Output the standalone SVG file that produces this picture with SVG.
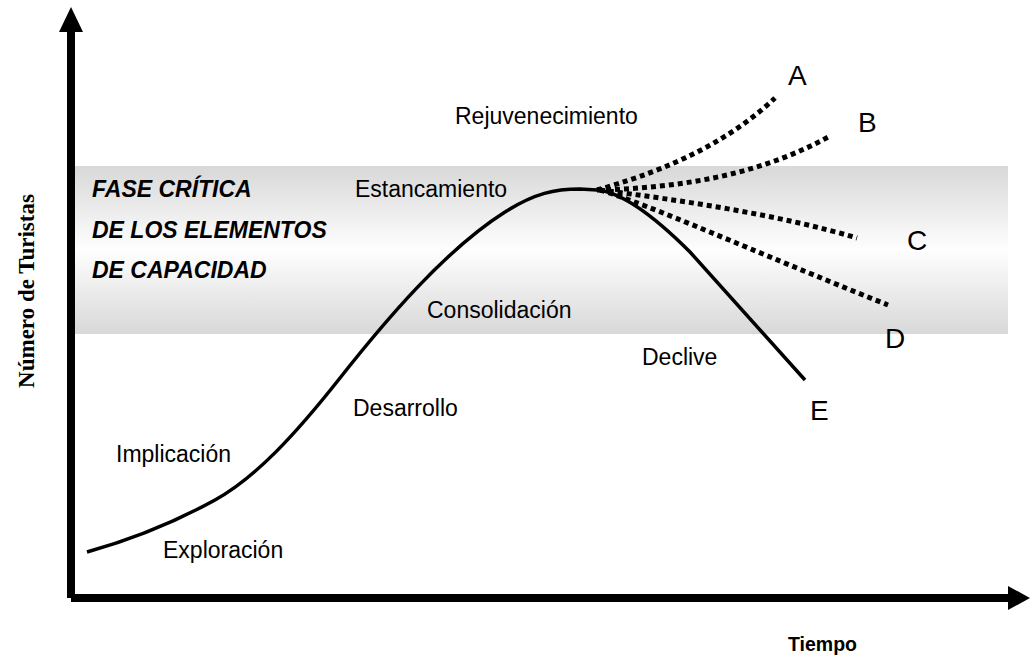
<svg xmlns="http://www.w3.org/2000/svg" width="1030" height="661" viewBox="0 0 1030 661">
<style>
.lbl{font-family:"Liberation Sans",Arial,sans-serif;font-size:23px;fill:#000}
.let{font-family:"Liberation Sans",Arial,sans-serif;font-size:28px;fill:#000}
.crit{font-family:"Liberation Sans",Arial,sans-serif;font-size:23px;font-weight:bold;font-style:italic;fill:#000}
.curve{fill:none;stroke:#000;stroke-width:3.5;stroke-linejoin:round}
.dot{fill:none;stroke:#000;stroke-width:5;stroke-dasharray:5 4}
</style>
<defs>
<linearGradient id="band" x1="0" y1="0" x2="0" y2="1">
<stop offset="0" stop-color="#d8d8d8"/>
<stop offset="0.5" stop-color="#fefefe"/>
<stop offset="1" stop-color="#d8d8d8"/>
</linearGradient>
</defs>
<rect width="1030" height="661" fill="#fff"/>
<g id="critical-band">
<rect x="75" y="166" width="933" height="168" fill="url(#band)"/>
<text class="crit" x="92" y="197">FASE CRÍTICA</text>
<text class="crit" x="92" y="238">DE LOS ELEMENTOS</text>
<text class="crit" x="92" y="278">DE CAPACIDAD</text>
</g>
<g id="axes">
<rect x="67" y="30" width="8" height="568" fill="#000"/>
<polygon points="71,7 59,32 83,32" fill="#000"/>
<rect x="71" y="594" width="938" height="8" fill="#000"/>
<polygon points="1030,598 1008,586 1008,610" fill="#000"/>
<text x="34" y="291" transform="rotate(-90 34 291)" text-anchor="middle" font-family="'Liberation Serif','Times New Roman',serif" font-weight="bold" font-size="23">Número de Turistas</text>
<text x="788" y="651" font-family="'Liberation Sans',Arial,sans-serif" font-weight="bold" font-size="19.5">Tiempo</text>
</g>
<g id="connectors">
<path class="curve" d="M87,552 C130,540 175,522 215,500 C255,478 295,435 340,378 C385,321 445,250 505,212 C535,193 555,189 580,189 L597,190 C620,192 650,212 690,252 L805,380"/>
<path class="dot" d="M597,190 C650,175 720,150 775,98"/>
<path class="dot" d="M597,190 C680,188 760,175 830,136"/>
<path class="dot" d="M600,190 C680,200 780,215 857,238"/>
<path class="dot" d="M600,190 C650,205 750,250 888,305"/>
</g>
<g id="stages">
<text class="lbl" x="455" y="124">Rejuvenecimiento</text>
<text class="lbl" x="355" y="197">Estancamiento</text>
<text class="lbl" x="427" y="318">Consolidación</text>
<text class="lbl" x="642" y="365">Declive</text>
<text class="lbl" x="353" y="416">Desarrollo</text>
<text class="lbl" x="116" y="462">Implicación</text>
<text class="lbl" x="163" y="558">Exploración</text>
</g>
<g id="scenarios">
<text class="let" x="788" y="85">A</text>
<text class="let" x="858" y="132">B</text>
<text class="let" x="907" y="250">C</text>
<text class="let" x="885" y="348">D</text>
<text class="let" x="810" y="420">E</text>
</g>
</svg>
